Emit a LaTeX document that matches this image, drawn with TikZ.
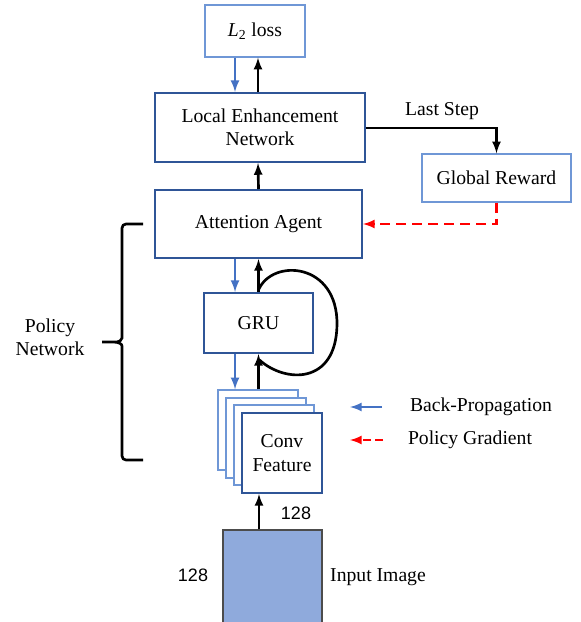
\documentclass[tikz,border=0pt]{standalone}
\usepackage{fontspec}
\setmainfont{Liberation Serif}
\newfontfamily\numfont{Liberation Sans}
\usetikzlibrary{shapes}
\usetikzlibrary{shapes,arrows}
\tikzstyle{every picture}+=[font=\fontsize{14.75}{17.5}\selectfont]

\begin{document}
\begin{tikzpicture}[x=0.75pt,y=-0.75pt]

\definecolor{darkbox}{HTML}{2F5597}
\definecolor{lightbox}{HTML}{6F97D6}
\definecolor{bpblue}{HTML}{4472C4}
\definecolor{imgfill}{HTML}{8FAADC}

\tikzstyle{mainbox}=[draw=darkbox, line width=1.5pt, fill=white, align=center, inner sep=0pt]
\tikzstyle{thinbox}=[draw=lightbox, line width=1.1pt, fill=white, align=center, inner sep=0pt]
\tikzstyle{fwd}=[-latex, line width=2pt, black]
\tikzstyle{bwd}=[-latex, line width=2pt, bpblue]
\tikzstyle{pg}=[-latex, line width=2pt, red, dash pattern=on 7.5pt off 4.5pt]
\tikzstyle{numlabel}=[font=\numfont\fontsize{13.5}{16}\selectfont]

\clip (0,0) rectangle (581,622);

%% boxes
\node[thinbox, minimum width=75pt, minimum height=39pt] (loss) at (255,31) {\textit{L}\textsubscript{2} loss};
\node[mainbox, minimum width=157.5pt, minimum height=51.75pt] (len) at (260,127.5) {Local Enhancement\\Network};
\node[mainbox, minimum width=155.25pt, minimum height=51pt] (agent) at (258.5,224) {Attention Agent};
\node[thinbox, minimum width=111.75pt, minimum height=36pt] (reward) at (496.5,178) {Global Reward};
\node[mainbox, minimum width=81.75pt, minimum height=45pt] (gru) at (258.5,323) {GRU};

%% stacked conv features
\node[thinbox, minimum size=60pt] (conv1) at (258,430) {};
\node[thinbox, minimum size=60pt] (conv2) at (266,438) {};
\node[thinbox, minimum size=60pt] (conv3) at (274,445) {};
\node[mainbox, minimum size=60pt] (conv) at (282,453) {Conv\\Feature};

%% input image
\node[draw=black!70, line width=1pt, fill=imgfill, minimum width=74.25pt, minimum height=75pt, inner sep=0pt] (img) at (272.5,580) {};
\node[numlabel] (w) at (296,513) {128};
\node[numlabel] (h) at (193,575) {128};
\node (imglabel) at (378,577) {Input Image};

%% forward / backward arrows
\draw[bwd] ([xshift=-15pt]loss.south) -- ([xshift=-18.75pt]len.north);
\draw[fwd] ([xshift=-1.5pt]len.north) -- ([xshift=2.25pt]loss.south);
\draw[fwd] ([xshift=0pt]agent.north) -- ([xshift=-1.5pt]len.south);
\draw[bwd] ([xshift=-17.6pt]agent.south) -- ([xshift=-17.6pt]gru.north);
\draw[fwd] ([xshift=0pt]gru.north) -- ([xshift=0pt]agent.south);
\draw[bwd] ([xshift=-17.6pt]gru.south) -- ([xshift=-17.6pt]gru.south |- conv1.north);
\draw[fwd] (gru.south |- conv1.north) -- (gru.south);
\draw[fwd] (img.north -| 259,0) -- (conv.south -| 259,0);

%% recurrence
\draw[line width=2pt] (258.5,290) .. controls (272,258) and (338,262) .. (337,325)
  .. controls (336,385) and (285,383) .. (259.5,360);

%% last step and reward
\draw[fwd] (len.east |- 0,128) -| (reward.north);
\node (last) at (442,111) {Last Step};
\draw[pg] (reward.south) |- (agent.east |- 0,224);

%% policy network brace
\draw[line width=2pt, rounded corners=3pt] (143,224) -- (122,224) -- (122,334)
  .. controls (122,340) and (119,342) .. (113,342) -- (102,342)
  (113,342) .. controls (119,342) and (122,344) .. (122,350) -- (122,460) -- (143,460);
\node[align=center] (policy) at (50,337) {Policy\\Network};

%% legend
\coordinate (bpa) at (382,407);
\coordinate (bpb) at (350,407);
\draw[bwd] (bpa) -- (bpb);
\node (bplabel) at (481,407) {Back-Propagation};
\coordinate (pga) at (383,440);
\coordinate (pgb) at (350,440);
\draw[pg, dash pattern=on 6pt off 3pt] (pga) -- (pgb);
\node (pglabel) at (470,440) {Policy Gradient};

\end{tikzpicture}
\end{document}
